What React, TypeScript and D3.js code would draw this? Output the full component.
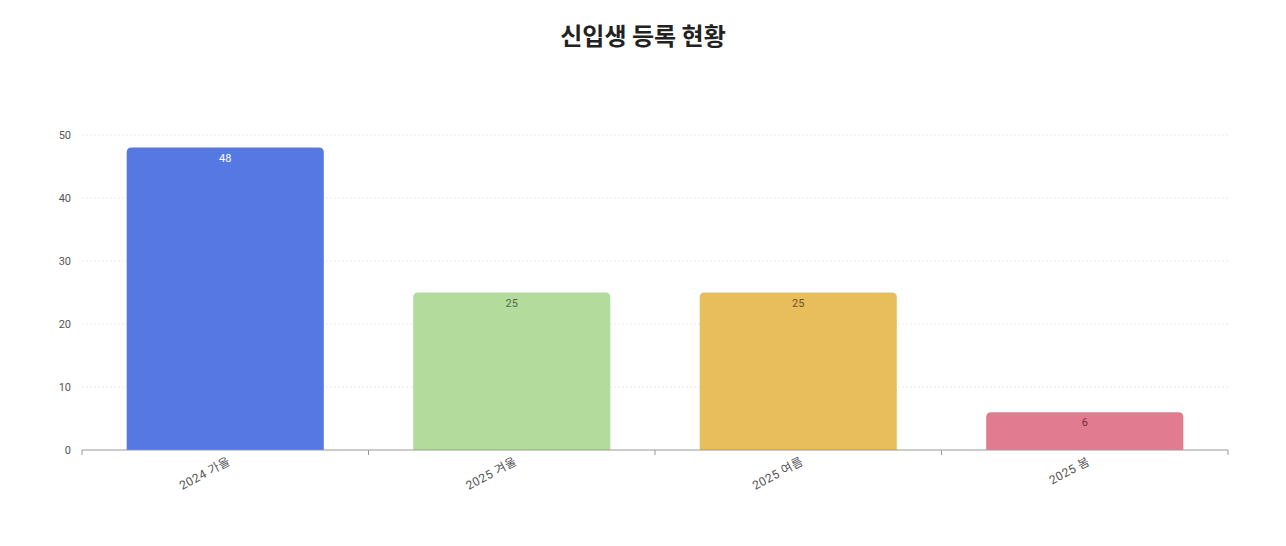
import React, { useRef, useEffect } from 'react'
import { select, scaleBand, scaleLinear } from "d3";

// data
const categories = ["2024 가을", "2025 겨울", "2025 여름", "2025 봄"];
const values = [48, 25, 25, 6];
const barColors = ["#5578e2", "#b3dc9c", "#e8bd5b", "#e07b90"];
const labelColors = ["#ffffff", "#556b48", "#6b5322", "#7a2a3a"];
const yTicks = [0, 10, 20, 30, 40, 50];

const W = 1286;
const H = 546;

const App = () => {
    const svgRef = useRef<SVGSVGElement>(null);

    useEffect(() => {
        const svg = select(svgRef.current);
        svg.selectAll("*").remove();

        const left = 82, right = 1228, top = 135, bottom = 450;
        const font = "Roboto, 'Noto Sans CJK KR', sans-serif";

        const x = scaleBand<string>()
            .domain(categories)
            .range([left, right])
            .paddingInner(0.312)
            .paddingOuter(0.156);

        const y = scaleLinear()
            .domain([0, 50])
            .range([bottom, top]);

        // title
        svg.append("text")
            .attr("x", W / 2)
            .attr("y", 45)
            .attr("text-anchor", "middle")
            .attr("font-family", "'Noto Sans CJK KR', sans-serif")
            .attr("font-weight", "bold")
            .attr("font-size", 24)
            .attr("fill", "#222")
            .text("신입생 등록 현황");

        // grid
        svg.selectAll("line.grid")
            .data(yTicks.filter(d => d > 0))
            .join("line")
            .attr("class", "grid")
            .attr("x1", left).attr("x2", right)
            .attr("y1", d => y(d)).attr("y2", d => y(d))
            .attr("stroke", "#e8e8e8")
            .attr("stroke-dasharray", "2,2");

        // y labels
        svg.selectAll("text.ytick")
            .data(yTicks)
            .join("text")
            .attr("class", "ytick")
            .attr("x", 71)
            .attr("y", d => y(d) + 4)
            .attr("text-anchor", "end")
            .attr("font-family", font)
            .attr("font-size", 11)
            .attr("fill", "#555")
            .text(d => d);

        // bars with rounded tops
        const r = 5;
        const bw = x.bandwidth();
        svg.selectAll("path.bar")
            .data(values)
            .join("path")
            .attr("class", "bar")
            .attr("fill", (d, i) => barColors[i])
            .attr("d", (d, i) => {
                const x0 = x(categories[i])!;
                const y0 = y(d);
                return `M${x0},${bottom}V${y0 + r}Q${x0},${y0} ${x0 + r},${y0}` +
                    `H${x0 + bw - r}Q${x0 + bw},${y0} ${x0 + bw},${y0 + r}V${bottom}Z`;
            });

        // value labels
        svg.selectAll("text.val")
            .data(values)
            .join("text")
            .attr("class", "val")
            .attr("x", (d, i) => x(categories[i])! + bw / 2)
            .attr("y", d => y(d) + 14)
            .attr("text-anchor", "middle")
            .attr("font-family", font)
            .attr("font-size", 11)
            .attr("fill", (d, i) => labelColors[i])
            .text(d => d);

        // x axis
        svg.append("line")
            .attr("x1", left).attr("x2", right)
            .attr("y1", bottom).attr("y2", bottom)
            .attr("stroke", "#999");

        const step = x.step();
        const tickXs = [0, 1, 2, 3, 4].map(i => left + i * step);
        svg.selectAll("line.xtick")
            .data(tickXs)
            .join("line")
            .attr("class", "xtick")
            .attr("x1", d => d).attr("x2", d => d)
            .attr("y1", bottom).attr("y2", bottom + 5)
            .attr("stroke", "#999");

        svg.selectAll("text.xlab")
            .data(categories)
            .join("text")
            .attr("class", "xlab")
            .attr("text-anchor", "end")
            .attr("font-family", font)
            .attr("font-size", 12)
            .attr("letter-spacing", 0.5)
            .attr("fill", "#555")
            .attr("transform", d => `translate(${x(d)! + bw / 2 + 6},${bottom + 14}) rotate(-28)`)
            .text(d => d);
    }, []);

   return (
    <React.Fragment>
        <svg ref={svgRef} width={W} height={H}
             style={{ position: "absolute", left: 0, top: 0, background: "#fff" }}>
        </svg>
    </React.Fragment>
   )
 }

 export default App;
